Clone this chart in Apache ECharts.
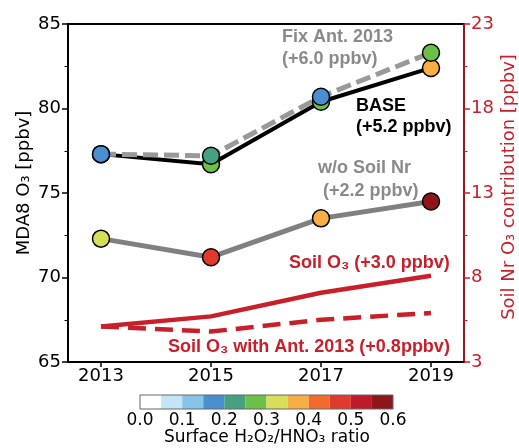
<!DOCTYPE html>
<html>
<head>
<meta charset="utf-8">
<script src="https://cdn.jsdelivr.net/npm/echarts@6/dist/echarts.min.js"></script>
<style>html,body{margin:0;padding:0;background:#fff}#c{width:519px;height:448px}</style>
</head>
<body>
<div id="c"></div>
<script>
// ---- data ----
const years = [2013, 2015, 2017, 2019];
const baseO3 = [77.3, 76.7, 80.4, 82.4];
const baseRatio = [0.175, 0.275, 0.275, 0.375];
const fixAntO3 = [77.3, 77.2, 80.7, 83.3];
const fixAntRatio = [0.175, 0.225, 0.175, 0.275];
const noSoilO3 = [72.3, 71.2, 73.5, 74.5];
const noSoilRatio = [0.325, 0.475, 0.375, 0.575];
const soilO3 = [5.1, 5.7, 7.1, 8.1];
const soilO3Ant = [5.1, 4.8, 5.5, 5.9];
const ratioBins = ['0.00-0.05','0.05-0.10','0.10-0.15','0.15-0.20','0.20-0.25','0.25-0.30','0.30-0.35','0.35-0.40','0.40-0.45','0.45-0.50','0.50-0.55','0.55-0.60'];
const binColors = ['#ffffff','#c4e5f7','#88c3ea','#4a8fd0','#46a082','#6cbf47','#d7df5a','#f7ae45','#f26a2e','#e0392d','#bf1a29','#8e1518'];
const binWidth = 0.05;

const FF = 'DejaVu Sans';
const RED = '#c8202a';
const GRAY = '#8a8a8a';

function colorOf(r){ return binColors[Math.min(binColors.length-1, Math.floor(r/binWidth))]; }
function pts(vals){ return years.map((y,i)=>[y, vals[i]]); }
function scat(vals, ratios){ return years.map((y,i)=>({value:[y, vals[i]], itemStyle:{color: colorOf(ratios[i])}})); }

const chart = echarts.init(document.getElementById('c'), null, {renderer:'canvas'});
const bold = 'bold 18px "Liberation Sans", Arial, sans-serif';
function txt(t, x, y, color, align){
  return {type:'text', x:x, y:y, z:100, style:{text:t, fill:color, font:bold, align:align||'left', textAlign:align||'left', verticalAlign:'middle', textVerticalAlign:'middle'}};
}
const option = {
  animation:false,
  backgroundColor:'#fff',
  grid:[
    {left:68, right:55, top:24, bottom:86, show:true, borderColor:'#000', borderWidth:2, z:0},
    {left:140, top:395, width:253, height:14, show:true, borderColor:'#666', borderWidth:1, z:10}
  ],
  xAxis:[
    {type:'value', gridIndex:0, min:2012.4, max:2019.6,
     axisLine:{show:true, lineStyle:{color:'#000', width:2}},
     axisTick:{show:true, customValues:years, length:5, lineStyle:{color:'#000', width:1.5}},
     axisLabel:{customValues:years, formatter:v=>String(v), fontSize:18, fontFamily:FF, color:'#000', margin:5},
     splitLine:{show:false}},
    {type:'category', gridIndex:1, data:ratioBins, show:false, boundaryGap:true},
    {type:'value', gridIndex:1, min:0, max:0.6, interval:0.1, position:'bottom',
     axisLine:{show:false}, axisTick:{show:false}, splitLine:{show:false},
     axisLabel:{formatter:v=>v.toFixed(1), fontSize:17, fontFamily:FF, color:'#000', margin:3, showMinLabel:true, showMaxLabel:true}}
  ],
  yAxis:[
    {type:'value', gridIndex:0, min:65, max:85, interval:5,
     axisLine:{show:true, lineStyle:{color:'#000', width:2}},
     axisTick:{show:true, length:6, lineStyle:{color:'#000', width:1.5}},
     minorTick:{show:true, splitNumber:2, length:3.5, lineStyle:{color:'#000', width:1}},
     axisLabel:{fontSize:18, fontFamily:FF, color:'#000', margin:7},
     splitLine:{show:false}, minorSplitLine:{show:false}},
    {type:'value', gridIndex:0, position:'right', min:3, max:23, interval:5,
     axisLine:{show:true, lineStyle:{color:RED, width:1.5}},
     axisTick:{show:true, length:6, lineStyle:{color:RED, width:1.5}},
     minorTick:{show:true, splitNumber:2, length:3.5, lineStyle:{color:RED, width:1}},
     axisLabel:{fontSize:18, fontFamily:FF, color:RED, margin:7},
     splitLine:{show:false}, minorSplitLine:{show:false}},
    {type:'value', gridIndex:1, min:0, max:1, show:false}
  ],
  series:[
    {type:'line', xAxisIndex:0, yAxisIndex:0, data:pts(baseO3), showSymbol:false, lineStyle:{color:'#000', width:4}, z:2},
    {type:'line', xAxisIndex:0, yAxisIndex:0, data:pts(fixAntO3), showSymbol:false, lineStyle:{color:'#999', width:5, type:[15,6]}, z:3},
    {type:'line', xAxisIndex:0, yAxisIndex:0, data:pts(noSoilO3), showSymbol:false, lineStyle:{color:'#808080', width:5}, z:2},
    {type:'line', xAxisIndex:0, yAxisIndex:1, data:pts(soilO3), showSymbol:false, lineStyle:{color:RED, width:4.5}, z:2},
    {type:'line', xAxisIndex:0, yAxisIndex:1, data:pts(soilO3Ant), showSymbol:false, lineStyle:{color:RED, width:4.5, type:[18,9]}, z:2},
    {type:'scatter', xAxisIndex:0, yAxisIndex:0, data:scat(baseO3, baseRatio), symbolSize:17, itemStyle:{borderColor:'#000', borderWidth:1.5, opacity:1}, z:5},
    {type:'scatter', xAxisIndex:0, yAxisIndex:0, data:scat(fixAntO3, fixAntRatio), symbolSize:17, itemStyle:{borderColor:'#000', borderWidth:1.5, opacity:1}, z:6},
    {type:'scatter', xAxisIndex:0, yAxisIndex:0, data:scat(noSoilO3, noSoilRatio), symbolSize:17, itemStyle:{borderColor:'#000', borderWidth:1.5, opacity:1}, z:5},
    {type:'bar', xAxisIndex:1, yAxisIndex:2, data:binColors.map(c=>({value:1, itemStyle:{color:c}})), barWidth:'100%', barCategoryGap:'0%', z:2}
  ],
  graphic:[
    txt('Fix Ant. 2013', 282, 37, GRAY),
    txt('(+6.0 ppbv)', 282, 59, GRAY),
    txt('BASE', 356, 106, '#000'),
    txt('(+5.2 ppbv)', 356, 127, '#000'),
    txt('w/o Soil Nr', 318, 168, GRAY),
    txt('(+2.2 ppbv)', 323, 191, GRAY),
    txt('Soil O₃ (+3.0 ppbv)', 289, 263, RED),
    txt('Soil O₃ with Ant. 2013 (+0.8ppbv)', 168, 347, RED),
    {type:'text', x:24, y:183, rotation:Math.PI/2, z:100,
     style:{text:'MDA8 O₃ [ppbv]', fill:'#000', font:'18px "DejaVu Sans"', align:'center', textAlign:'center', verticalAlign:'middle', textVerticalAlign:'middle'}},
    {type:'text', x:509, y:187, rotation:Math.PI/2, z:100,
     style:{text:'Soil Nr O₃ contribution [ppbv]', fill:RED, font:'18px "DejaVu Sans"', align:'center', textAlign:'center', verticalAlign:'middle', textVerticalAlign:'middle'}},
    {type:'text', x:267, y:438, z:100,
     style:{text:'Surface H₂O₂/HNO₃ ratio', fill:'#000', font:'17px "DejaVu Sans"', align:'center', textAlign:'center', verticalAlign:'middle', textVerticalAlign:'middle'}}
  ]
};
chart.setOption(option);
</script>
</body>
</html>
